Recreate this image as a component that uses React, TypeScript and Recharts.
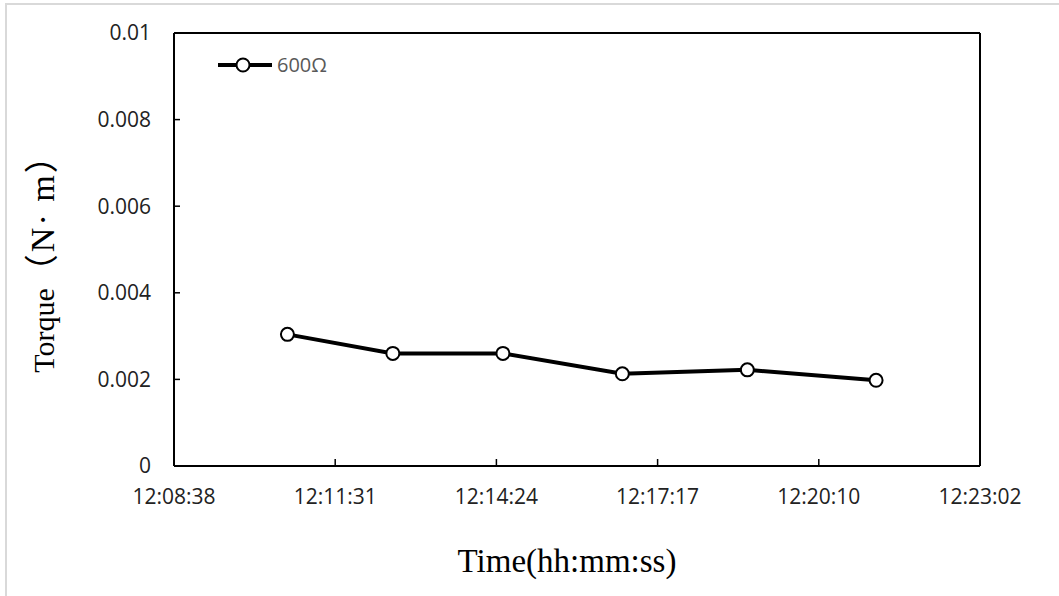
import { LineChart, Line, XAxis, YAxis, ReferenceLine } from 'recharts';

// measurement times (hh:mm:ss) and torque readings in N·m
const times = ['12:10:40', '12:12:33', '12:14:31', '12:16:39', '12:18:53', '12:21:11'];
const torque = [0.00304, 0.0026, 0.0026, 0.00213, 0.00222, 0.00198];

// x axis runs in day fractions, like a spreadsheet time axis
const xTicks = [0.506, 0.508, 0.51, 0.512, 0.514, 0.516];
const yTicks = [0, 0.002, 0.004, 0.006, 0.008, 0.01];
const seriesName = '600Ω';

const toDayFraction = (t: string) => {
  const [h, m, s] = t.split(':').map(Number);
  return (h * 3600 + m * 60 + s) / 86400;
};

const formatTime = (v: number) => {
  const total = Math.round(v * 86400);
  const h = Math.floor(total / 3600);
  const m = Math.floor((total % 3600) / 60);
  const s = total % 60;
  const pad = (n: number) => String(n).padStart(2, '0');
  return `${h}:${pad(m)}:${pad(s)}`;
};

const data = times.map((t, i) => ({ time: toDayFraction(t), torque: torque[i] }));

const tickStyle = { fontFamily: '"Open Sans", sans-serif', fontSize: 21, fill: '#222' };

// legend drawn as an overlay so it doesn't push the plot area down
function LegendBox() {
  return (
    <div style={{ position: 'absolute', left: 217, top: 55, display: 'flex', alignItems: 'center' }}>
      <svg width={56} height={20}>
        <line x1={1} y1={10} x2={55} y2={10} stroke="#000" strokeWidth={4} />
        <circle cx={26} cy={10} r={6.5} fill="#fff" stroke="#000" strokeWidth={2} />
      </svg>
      <span style={{ fontFamily: '"Open Sans", sans-serif', fontSize: 20, color: '#595959', marginLeft: 4, lineHeight: '20px' }}>
        {seriesName}
      </span>
    </div>
  );
}

export default function App() {
  return (
    <div style={{ position: 'absolute', left: 0, top: 0, width: 1059, height: 596, background: '#fff', overflow: 'hidden' }}>
      <div style={{ position: 'absolute', left: 5, top: 3, width: 1100, height: 700, borderLeft: '2px solid #d9d9d9', borderTop: '2px solid #d9d9d9' }} />
      <LineChart width={1059} height={596} data={data} margin={{ top: 33, right: 79, bottom: 90, left: 114 }}>
        <XAxis
          dataKey="time"
          type="number"
          domain={[0.506, 0.516]}
          ticks={xTicks}
          tickFormatter={formatTime}
          allowDataOverflow
          height={40}
          axisLine={{ stroke: '#000', strokeWidth: 2 }}
          tickLine={{ stroke: '#000', strokeWidth: 1.5 }}
          tickSize={-7}
          tickMargin={30}
          tick={tickStyle}
          interval={0}
        />
        <YAxis
          type="number"
          domain={[0, 0.01]}
          ticks={yTicks}
          tickFormatter={(v: number) => String(v)}
          width={60}
          axisLine={{ stroke: '#000', strokeWidth: 2 }}
          tickLine={{ stroke: '#000', strokeWidth: 1.5 }}
          tickSize={-6}
          tickMargin={29}
          tick={tickStyle}
          interval={0}
        />
        <ReferenceLine y={0.01} stroke="#000" strokeWidth={2} />
        <ReferenceLine x={0.516} stroke="#000" strokeWidth={2} />
        <Line
          type="linear"
          dataKey="torque"
          name={seriesName}
          stroke="#000"
          strokeWidth={4}
          dot={{ r: 6.5, fill: '#fff', stroke: '#000', strokeWidth: 2 }}
          activeDot={false}
          isAnimationActive={false}
        />
      </LineChart>
      <LegendBox />
      <div
        style={{
          position: 'absolute',
          left: 567,
          top: 545,
          transform: 'translateX(-50%)',
          fontFamily: '"Liberation Serif", serif',
          fontSize: 33,
          lineHeight: '33px',
          whiteSpace: 'nowrap',
          color: '#000',
        }}
      >
        Time(hh:mm:ss)
      </div>
      <div
        style={{
          position: 'absolute',
          left: 43,
          top: 255,
          transform: 'translate(-50%, -50%) rotate(-90deg)',
          fontFamily: '"Liberation Serif", "Noto Sans CJK SC", serif',
          fontSize: 30,
          lineHeight: '34px',
          whiteSpace: 'nowrap',
          color: '#000',
        }}
      >
        Torque<span style={{ fontSize: 34, letterSpacing: 2 }}>（N· m）</span>
      </div>
    </div>
  );
}
